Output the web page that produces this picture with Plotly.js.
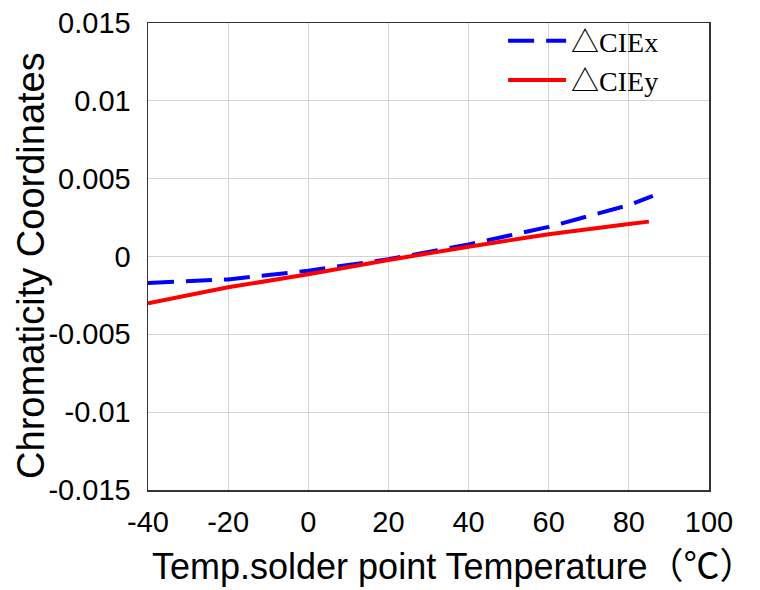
<!DOCTYPE html>
<html><head><meta charset="utf-8">
<script src="https://cdn.plot.ly/plotly-3.0.1.min.js"></script>
<style>body{margin:0;background:#fff}#c{width:760px;height:590px}</style>
</head><body><div id="c"></div>
<script>
const tempX = [-40, -20, 0, 20, 40, 60, 80, 86];
const cieX = [-0.0017, -0.00147, -0.00091, -0.00018, 0.00078, 0.0019, 0.0033, 0.0039];
const tempY = [-40, -20, 0, 20, 40, 60, 80, 85];
const cieY = [-0.0030, -0.00198, -0.00114, -0.00022, 0.00063, 0.00143, 0.00209, 0.00224];
const xTicks = [-40, -20, 0, 20, 40, 60, 80, 100];
const yTicks = [0.015, 0.01, 0.005, 0, -0.005, -0.01, -0.015];
const yTickText = ["0.015", "0.01", "0.005", "0", "-0.005", "-0.01", "-0.015"];
const xTitle = 'Temp.solder point Temperature（℃）';
const yTitle = 'Chromaticity Coordinates';

const traces = [
  {x: tempX, y: cieX, mode: 'lines', name: '△CIEx', line: {color: '#0000ff', width: 4, dash: '26px,12px'}},
  {x: tempY, y: cieY, mode: 'lines', name: '△CIEy', line: {color: '#ff0000', width: 4}}
];
const layout = {
  width: 760, height: 590,
  margin: {l: 148, r: 51, t: 23, b: 100},
  paper_bgcolor: '#fff', plot_bgcolor: '#fff',
  showlegend: true,
  legend: {x: 0.633, y: 1.015, xanchor: 'left', yanchor: 'top', bgcolor: 'rgba(0,0,0,0)', itemwidth: 58,
           tracegroupgap: 0,
           font: {family: 'Liberation Serif, Noto Sans CJK SC, serif', size: 28, color: '#000'}},
  xaxis: {range: [-40, 100], tickvals: xTicks, ticktext: xTicks.map(String), showgrid: true, gridcolor: '#d3d3d3', gridwidth: 1,
          zeroline: false, showline: true, linecolor: '#333', linewidth: 1.5, mirror: true, ticks: '',
          ticklabelstandoff: 6,
          tickfont: {family: 'Liberation Sans, Arial, sans-serif', size: 29, color: '#000'}},
  yaxis: {range: [-0.015, 0.015], tickvals: yTicks, ticktext: yTickText, showgrid: true, gridcolor: '#d3d3d3', gridwidth: 1,
          zeroline: false, showline: true, linecolor: '#333', linewidth: 1.5, mirror: true, ticks: '',
          ticklabelstandoff: 10,
          tickfont: {family: 'Liberation Sans, Arial, sans-serif', size: 29, color: '#000'}},
  annotations: [
    {text: xTitle, xref: 'paper', yref: 'paper', x: 0.545, y: -0.163, xanchor: 'center', yanchor: 'middle',
     showarrow: false, font: {family: 'Liberation Sans, Noto Sans CJK SC, sans-serif', size: 36, color: '#000'}},
    {text: yTitle, xref: 'paper', yref: 'paper', x: -0.2086, y: 0.482, xanchor: 'center', yanchor: 'middle', textangle: -90,
     showarrow: false, font: {family: 'Liberation Sans, Arial, sans-serif', size: 38, color: '#000'}}
  ]
};
Plotly.newPlot('c', traces, layout, {displayModeBar: false, staticPlot: true});
</script></body></html>
